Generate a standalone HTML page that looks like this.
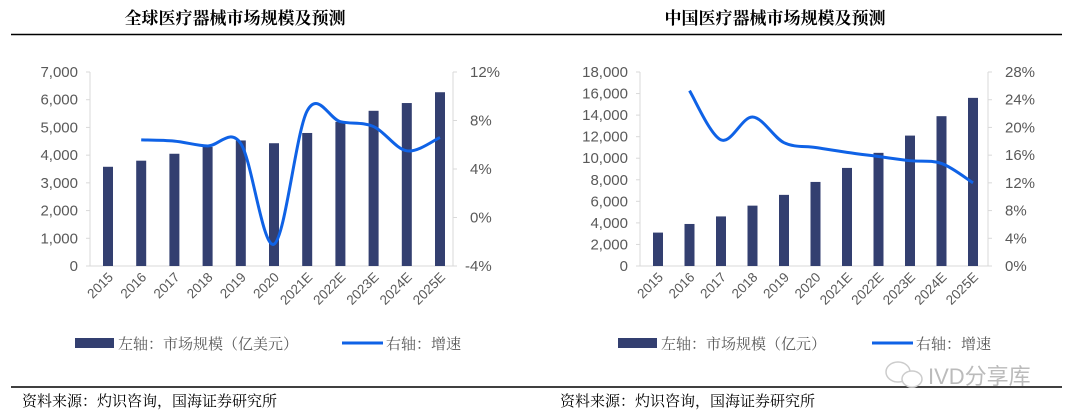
<!DOCTYPE html>
<html><head><meta charset="utf-8"><style>
html,body{margin:0;padding:0;background:#fff;width:1080px;height:411px;overflow:hidden}
svg{display:block}
text{font-family:"Liberation Sans","Noto Sans CJK SC",sans-serif}
.cn{font-family:"Noto Serif CJK SC","Noto Sans CJK SC",serif}
</style></head><body>
<svg id="s" width="1080" height="411" viewBox="0 0 1080 411" xmlns="http://www.w3.org/2000/svg">
<text x="235" y="24" text-anchor="middle" class="cn" font-size="17" font-weight="bold" fill="#000">全球医疗器械市场规模及预测</text>
<text x="775" y="24" text-anchor="middle" class="cn" font-size="17" font-weight="bold" fill="#000">中国医疗器械市场规模及预测</text>
<line x1="11" y1="34.5" x2="540" y2="34.5" stroke="#000" stroke-width="1.5"/>
<line x1="540" y1="34.5" x2="1062" y2="34.5" stroke="#000" stroke-width="1.5"/>
<line x1="11" y1="387" x2="540" y2="387" stroke="#000" stroke-width="1.5"/>
<line x1="540" y1="387" x2="1062" y2="387" stroke="#000" stroke-width="1.5"/>
<text x="22" y="406" class="cn" font-size="15" fill="#000">资料来源：灼识咨询，国海证券研究所</text>
<text x="560" y="406" class="cn" font-size="15" fill="#000">资料来源：灼识咨询，国海证券研究所</text>
<rect x="75" y="338" width="39" height="10" fill="#333F70"/>
<text x="118" y="349" class="cn" font-size="15" fill="#595959">左轴：市场规模（亿美元）</text>
<line x1="342" y1="343" x2="383" y2="343" stroke="#0F62E6" stroke-width="3"/>
<text x="386" y="349" class="cn" font-size="15" fill="#595959">右轴：增速</text>
<rect x="618" y="338" width="39" height="10" fill="#333F70"/>
<text x="661" y="349" class="cn" font-size="15" fill="#595959">左轴：市场规模（亿元）</text>
<line x1="872" y1="343" x2="913" y2="343" stroke="#0F62E6" stroke-width="3"/>
<text x="916" y="349" class="cn" font-size="15" fill="#595959">右轴：增速</text>
<text x="928" y="384" font-size="22" fill="#bbb" font-family="Liberation Sans,'Noto Sans CJK SC',sans-serif">IVD分享库</text>
<ellipse cx="898" cy="372" rx="12" ry="10" fill="none" stroke="#ccc" stroke-width="1.5"/>
<ellipse cx="912" cy="379" rx="10" ry="8" fill="#fff" stroke="#ccc" stroke-width="1.5"/>
</svg>
<script>
const S=document.getElementById('s'),NS='http://www.w3.org/2000/svg';
function el(t,a,txt){const e=document.createElementNS(NS,t);for(const k in a)e.setAttribute(k,a[k]);if(txt!==undefined)e.textContent=txt;S.appendChild(e);return e;}
const labs=['2015','2016','2017','2018','2019','2020','2021E','2022E','2023E','2024E','2025E'];
function chart(o){
 const top=72,bot=266,H=bot-top;
 el('line',{x1:o.ax,y1:top,x2:o.ax,y2:bot,stroke:'#d9d9d9'});
 el('line',{x1:o.ax,y1:bot,x2:o.rx,y2:bot,stroke:'#d9d9d9'});
 el('line',{x1:o.rx,y1:top,x2:o.rx,y2:bot,stroke:'#d9d9d9'});
 for(let i=0;i<=o.ln;i++){const v=o.lmax*i/o.ln,y=bot-H*i/o.ln;
  el('text',{x:o.ax-12,y:y+5,'text-anchor':'end','font-size':15,fill:'#595959'},v.toLocaleString('en-US'));
  el('line',{x1:o.ax-4,y1:y,x2:o.ax,y2:y,stroke:'#d9d9d9'});}
 for(let i=0;i<=o.rn;i++){const v=o.rmin+(o.rmax-o.rmin)*i/o.rn,y=bot-H*i/o.rn;
  el('text',{x:o.rx+(v<0?12:17),y:y+5,'font-size':15,fill:'#595959'},v+'%');
  el('line',{x1:o.rx,y1:y,x2:o.rx+4,y2:y,stroke:'#d9d9d9'});}
 const pts=[];
 o.bars.forEach((v,i)=>{const cx=o.x0+o.dx*i,h=H*v/o.lmax;
  el('rect',{x:cx-5,y:bot-h,width:10,height:h,fill:'#333F70'});
  el('text',{x:0,y:0,'font-size':13.5,fill:'#595959','text-anchor':'end',transform:`translate(${cx+6},${bot+12}) rotate(-45)`},labs[i]);
  if(o.line[i]!=null)pts.push([cx,bot-H*(o.line[i]-o.rmin)/(o.rmax-o.rmin)]);});
 let d='M'+pts[0];
 for(let i=0;i<pts.length-1;i++){const p0=pts[i-1]||pts[i],p1=pts[i],p2=pts[i+1],p3=pts[i+2]||p2,t=6;
  d+=` C${p1[0]+(p2[0]-p0[0])/t},${p1[1]+(p2[1]-p0[1])/t} ${p2[0]-(p3[0]-p1[0])/t},${p2[1]-(p3[1]-p1[1])/t} ${p2[0]},${p2[1]}`;}
 el('path',{d:d,fill:'none',stroke:'#0F62E6','stroke-width':3});
}
chart({ax:90,rx:453,x0:108,dx:33.2,lmax:7000,ln:7,rmin:-4,rmax:12,rn:4,
 bars:[3580,3800,4050,4300,4530,4430,4800,5200,5600,5880,6270],
 line:[null,6.4,6.3,5.9,6.1,-2.2,8.8,7.9,7.5,5.5,6.6]});
chart({ax:640,rx:988,x0:658,dx:31.5,lmax:18000,ln:9,rmin:0,rmax:28,rn:7,
 bars:[3100,3900,4600,5600,6600,7800,9100,10500,12100,13900,15600],
 line:[null,25.3,18.2,21.5,17.8,17.1,16.4,15.8,15.2,14.8,12.0]});
</script>
</body></html>
